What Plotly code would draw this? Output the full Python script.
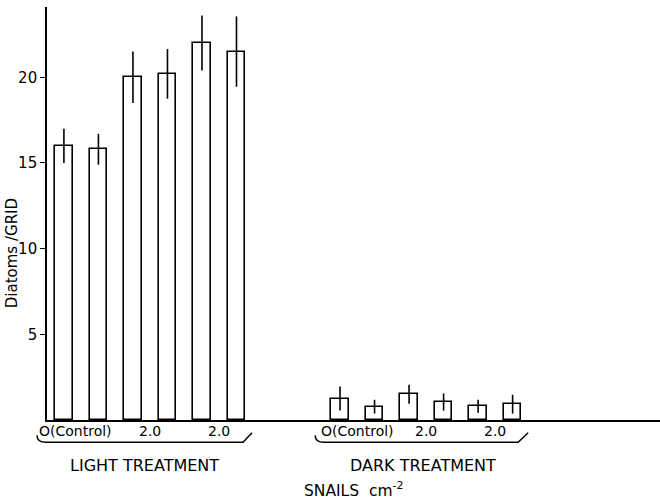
import plotly.graph_objects as go

# ---- data ----
light_pos = [0, 1, 2, 3, 4, 5]
light_means = [16.0, 15.8, 20.0, 20.2, 22.0, 21.5]
light_err = [1.0, 0.9, 1.5, 1.45, 1.6, 2.05]

dark_pos = [8, 9, 10, 11, 12, 13]
dark_means = [1.25, 0.78, 1.5, 1.05, 0.8, 0.92]
dark_err = [0.7, 0.4, 0.55, 0.5, 0.38, 0.55]

tick_pos = [0.5, 2.5, 4.5, 8.5, 10.5, 12.5]
tick_text = ["O(Control)", "2.0", "2.0", "O(Control)", "2.0", "2.0"]

group_names = ["LIGHT TREATMENT", "DARK TREATMENT"]
y_ticks = [5, 10, 15, 20]

XMIN, XMAX = -0.49, 17.27
YMAX = 24.1
FONT = "DejaVu Sans"


def xp(v):
    return (v - XMIN) / (XMAX - XMIN)


fig = go.Figure()
for pos, means, err in [(light_pos, light_means, light_err), (dark_pos, dark_means, dark_err)]:
    fig.add_trace(go.Bar(
        x=pos, y=means, width=0.51,
        marker=dict(color="white", line=dict(color="black", width=1.6)),
        error_y=dict(type="data", array=err, visible=True, color="black", thickness=1.6, width=0),
        showlegend=False, hoverinfo="skip",
    ))

annotations = []
for tp, tt in zip(tick_pos, tick_text):
    annotations.append(dict(x=tp, xref="x", y=0, yref="paper", yanchor="top", xanchor="center",
                            yshift=-1, xshift=-6 if tp == 0.5 else 0,
                            text=tt, showarrow=False, font=dict(family=FONT, size=14, color="black")))

# group titles
for name, grp, shift in zip(group_names, [light_pos, dark_pos], [-6, -3]):
    cx = (grp[0] + grp[-1]) / 2
    annotations.append(dict(x=cx, xref="x", y=-0.109, yref="paper", yanchor="middle", xanchor="center",
                            xshift=shift,
                            text=name, showarrow=False, font=dict(family=FONT, size=16, color="black")))

annotations.append(dict(x=(354 - 47) / 613, xref="paper", y=-0.168, yref="paper",
                        yanchor="middle", xanchor="center",
                        text="SNAILS  cm<sup>-2</sup>", showarrow=False,
                        font=dict(family=FONT, size=15.5, color="black")))
annotations.append(dict(x=-0.057, xref="paper", y=0.404, yref="paper", textangle=-90,
                        xanchor="center", yanchor="middle",
                        text="Diatoms /GRID", showarrow=False,
                        font=dict(family=FONT, size=15, color="black")))

# brackets (paper coords)
shapes = []
y_top, y_bot = -0.037, -0.054
for left, right, tip in [(-0.78, 5.19, 5.45), (7.28, 13.16, 13.45)]:
    x0, x1, x2 = xp(left), xp(right), xp(tip)
    dx = xp(left + 0.25) - x0
    path = (f"M {x0:.4f},{y_top:.4f} Q {x0:.4f},{y_bot:.4f} {x0 + dx:.4f},{y_bot:.4f} "
            f"L {x1:.4f},{y_bot:.4f} L {x2:.4f},{y_top + 0.006:.4f}")
    shapes.append(dict(type="path", xref="paper", yref="paper", path=path,
                       line=dict(color="black", width=1.5)))

fig.update_layout(
    width=660, height=501,
    margin=dict(l=47, r=0, t=7, b=81),
    plot_bgcolor="white", paper_bgcolor="white",
    bargap=0,
    annotations=annotations, shapes=shapes,
    font=dict(family=FONT, color="black"),
    xaxis=dict(range=[XMIN, XMAX], showgrid=False, zeroline=False, showline=True, automargin=False,
               linecolor="black", linewidth=1.6, showticklabels=False, ticks=""),
    yaxis=dict(range=[0, YMAX], showgrid=False, zeroline=False, showline=True, automargin=False,
               linecolor="black", linewidth=1.6, ticks="outside", ticklen=5, tickwidth=1.4,
               tickcolor="black", tickvals=y_ticks, ticktext=[str(t) for t in y_ticks],
               tickfont=dict(family=FONT, size=15, color="black")),
)

fig.write_html("out.html", config={"displayModeBar": False},
               post_script="document.body.style.margin='0';document.body.style.padding='0';")
